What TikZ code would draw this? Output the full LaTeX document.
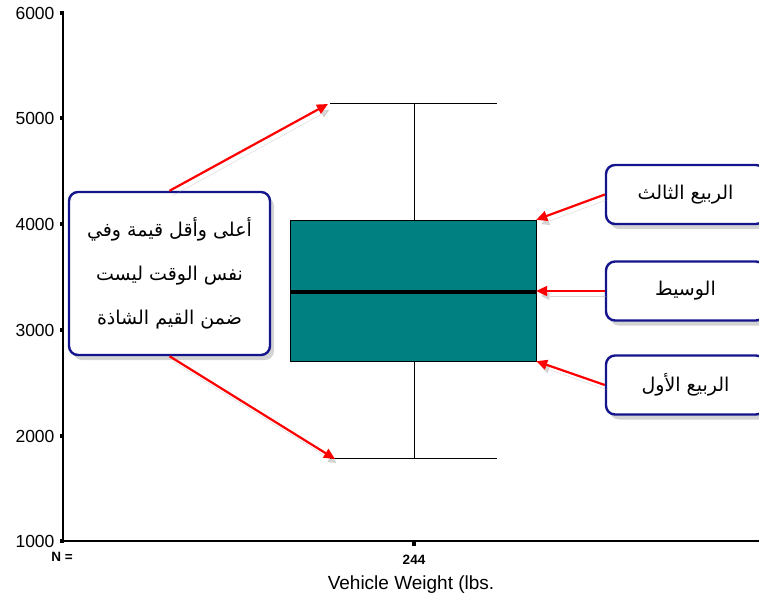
\documentclass[tikz,border=0pt]{standalone}
\usepackage{fontspec}
\setmainfont{Liberation Sans}
\newfontfamily\arabicfont[Script=Arabic]{DejaVu Sans}
\TeXXeTstate=1
\usetikzlibrary{arrows.meta,shadows}
\definecolor{boxteal}{RGB}{0,128,128}
\definecolor{framenavy}{RGB}{20,20,140}
\tikzset{
  callout/.style   = {draw=framenavy, line width=2.4pt, rounded corners=9pt,
                      fill=white, align=center, font=\arabicfont\fontsize{19}{44}\selectfont,
                      drop shadow={opacity=.35,shadow xshift=4pt,shadow yshift=-5pt}},
  pointer/.style   = {-{Triangle[length=11pt,width=10pt]}, red, line width=2.2pt,
                      preaction={draw=black!40, opacity=.4,
                                 transform canvas={xshift=3pt,yshift=-5pt}}},
  tickmark/.style  = {fill, inner sep=0pt, minimum size=3.5pt},
  whisk/.style     = {line width=.8pt},
  counttext/.style = {font=\bfseries\fontsize{13.5}{15}\selectfont},
}
\begin{document}
\begin{tikzpicture}[x=1pt,y=-1pt,font=\fontsize{17.5}{20}\selectfont]
\clip (0,0) rectangle (759,600);
% axes
\draw[line width=1.6pt] (63,13) -- (63,541) -- (759,541);
\foreach \v/\y in {6000/13,5000/118,4000/224,3000/330,2000/436,1000/541}{
  \node[tickmark] (m\v) at (62,\y) {};
  \node[anchor=east] (t\v) at (58,\y) {\v};
}
\node[tickmark] (xm) at (414,544) {};
\node[counttext] (ncount) at (414,560) {244};
\node[counttext] (nlab) at (62,557) {N =};
\node[font=\fontsize{19}{22}\selectfont] (xlab) at (411,585) {Vehicle Weight (lbs.};
% box and whiskers
\coordinate (wtop) at (414,103);
\coordinate (wbot) at (414,458);
\node[draw, fill=boxteal, inner sep=0pt, minimum width=246pt,
      minimum height=141pt] (box) at (413,290.5) {};
\draw[whisk] (wtop) -- (box.north -| wtop);
\draw[whisk] (wbot) -- (box.south -| wbot);
\draw[whisk] (330,103) -- (497,103);
\draw[whisk] (330,458) -- (497,458);
\draw[line width=3.5pt] (box.west |- 0,292) -- (box.east |- 0,292);
% callouts
\node[callout, minimum width=201pt, minimum height=163pt] (note) at (169.5,273.5)
  {\beginR أعلى وأقل قيمة وفي\endR\\ \beginR نفس الوقت ليست\endR\\ \beginR ضمن القيم الشاذة\endR};
\node[callout, minimum width=159pt, minimum height=59pt] (q3) at (685.5,194.5)
  {\beginR الربيع الثالث\endR};
\node[callout, minimum width=159pt, minimum height=59pt] (med) at (685.5,291)
  {\beginR الوسيط\endR};
\node[callout, minimum width=159pt, minimum height=59pt] (q1) at (685.5,385)
  {\beginR الربيع الأول\endR};
\coordinate (hitop) at (328,104);
\coordinate (hibot) at (335,459);
\draw[pointer] (note.north) -- (hitop);
\draw[pointer] (note.south) -- (hibot);
\draw[pointer] (q3.west) -- (box.north east);
\draw[pointer] (med.west) -- (box.east |- med.west);
\draw[pointer] (q1.west) -- (box.south east);
\end{tikzpicture}
\end{document}
